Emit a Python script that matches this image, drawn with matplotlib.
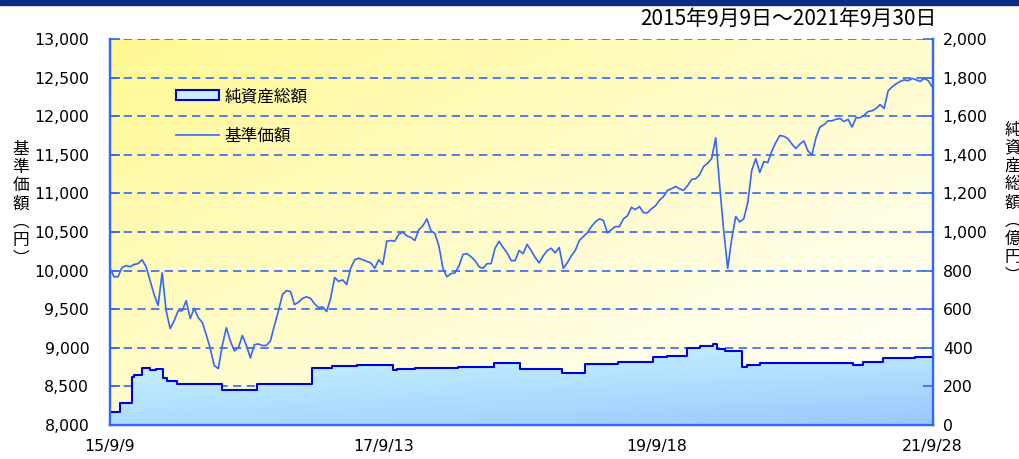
import numpy as np
import pandas as pd
import matplotlib
matplotlib.use("Agg")
import matplotlib.pyplot as plt
import matplotlib.dates as mdates
from matplotlib.patches import Rectangle, Patch
from matplotlib.lines import Line2D

# ===============================
# DATA
# ===============================
period_title = "2015年9月9日～2021年9月30日"

# 基準価額 (円) at even steps from 2015/9/9 to 2021/9/28
nav_start, nav_end = "2015-09-09", "2021-09-28"
nav_values = [
    10030, 9920, 9920, 10040, 10065, 10050, 10080, 10090, 10140, 10050,
    9870, 9690, 9550, 9970, 9480, 9250, 9350, 9480, 9480, 9610,
    9380, 9510, 9390, 9330, 9170, 8990, 8770, 8730, 9030, 9260,
    9090, 8960, 9000, 9160, 9030, 8870, 9040, 9050, 9030, 9030,
    9090, 9290, 9480, 9690, 9740, 9730, 9560, 9590, 9640, 9660,
    9640, 9570, 9520, 9530, 9470, 9640, 9910, 9860, 9880, 9820,
    10030, 10140, 10160, 10140, 10120, 10100, 10030, 10140, 10080, 10380,
    10390, 10380, 10470, 10500, 10450, 10430, 10390, 10530, 10580, 10670,
    10520, 10480, 10320, 10030, 9920, 9960, 9970, 10060, 10210, 10220,
    10180, 10130, 10050, 10030, 10090, 10090, 10290, 10380, 10300, 10230,
    10130, 10130, 10260, 10220, 10340, 10260, 10170, 10100, 10190, 10260,
    10290, 10230, 10300, 10030, 10100, 10190, 10260, 10390, 10440, 10490,
    10570, 10630, 10670, 10650, 10490, 10530, 10570, 10570, 10670, 10710,
    10820, 10790, 10830, 10750, 10750, 10800, 10840, 10910, 10960, 11040,
    11060, 11090, 11060, 11040, 11100, 11180, 11190, 11240, 11350, 11390,
    11450, 11720, 11100, 10520, 10030, 10410, 10700, 10630, 10670, 10880,
    11300, 11450, 11270, 11410, 11400, 11550, 11660, 11750, 11740, 11710,
    11640, 11580, 11640, 11680, 11550, 11500, 11720, 11860, 11890, 11940,
    11940, 11960, 11970, 11930, 11960, 11860, 11980, 11980, 12010, 12060,
    12070, 12100, 12150, 12100, 12330, 12380, 12420, 12450, 12470, 12460,
    12490, 12470, 12450, 12490, 12460, 12380,
]

# 純資産総額 (億円), step changes
asset_dates = [
    "2015-09-09", "2015-10-06", "2015-11-07", "2015-11-13", "2015-12-04",
    "2015-12-26", "2016-01-11", "2016-01-30", "2016-02-09", "2016-03-07",
    "2016-07-06", "2016-10-08", "2017-03-05", "2017-04-28", "2017-07-04",
    "2017-10-09", "2017-10-20", "2017-12-07", "2018-04-02", "2018-07-08",
    "2018-09-16", "2019-01-07", "2019-03-10", "2019-06-06", "2019-09-09",
    "2019-10-16", "2019-12-09", "2020-01-13", "2020-02-17", "2020-02-28",
    "2020-03-20", "2020-05-05", "2020-05-18", "2020-06-22", "2021-02-27",
    "2021-03-26", "2021-05-19", "2021-08-13", "2021-09-30",
]
asset_values = [
    65, 115, 250, 258, 295, 285, 290, 245, 228, 213,
    183, 213, 295, 306, 310, 285, 292, 295, 300, 321,
    290, 270, 316, 326, 352, 360, 399, 409, 420, 395,
    385, 301, 310, 321, 310, 327, 345, 350, 350,
]

xtick_dates = ["2015-09-09", "2017-09-13", "2019-09-18", "2021-09-28"]
xtick_labels = ["15/9/9", "17/9/13", "19/9/18", "21/9/28"]
left_ticks = list(range(8000, 13001, 500))
right_ticks = list(range(0, 2001, 200))

# ===============================
# STYLE
# ===============================
JP = ["Noto Sans CJK JP", "DejaVu Sans"]
plt.rcParams['font.family'] = ["DejaVu Sans", "Noto Sans CJK JP"]
BLUE = "#3366ff"
DARK = "#0000dd"

fig = plt.figure(figsize=(10.2, 4.59), dpi=100)
pos = [110 / 1020, 1 - 425 / 459, 823 / 1020, 386 / 459]

# background gradient (yellow top-left -> white bottom-right)
bg_ax = fig.add_axes(pos)
bg_ax.set_axis_off()
u = np.linspace(0, 1, 300)
v = np.linspace(0, 1, 150)
t = (((1 - u)[None, :] + v[:, None]) / 2) ** 1.2
yellow = np.array([1.0, 0.975, 0.57])
white = np.array([1.0, 1.0, 0.985])
bg = white + (yellow - white) * t[..., None]
bg_ax.imshow(bg, extent=[0, 1, 0, 1], origin='lower', aspect='auto')
bg_ax.set_xlim(0, 1)
bg_ax.set_ylim(0, 1)

ax = fig.add_axes(pos)
ax.patch.set_alpha(0)
ax2 = ax.twinx()

nav_dt = pd.date_range(nav_start, nav_end, periods=len(nav_values))
asset_dt = pd.to_datetime(asset_dates)

ax.yaxis.grid(True, linestyle=(0, (5, 3.2)), color=BLUE, lw=1.2)
ax.set_axisbelow(True)
ax.plot(nav_dt, nav_values, color=BLUE, lw=1.2, zorder=3)

# area with gradient
fill = ax2.fill_between(asset_dt, asset_values, 0, step='post',
                        facecolor='none', edgecolor='none')
x0 = mdates.date2num(pd.Timestamp("2015-09-09"))
x1 = mdates.date2num(pd.Timestamp("2021-09-30"))
gx = np.linspace(0, 1, 200)
gy = np.linspace(0, 1, 100)
top_l, top_r = np.array([0.80, 0.97, 1.0]), np.array([0.74, 0.92, 1.0])
bot_l, bot_r = np.array([0.68, 0.86, 1.0]), np.array([0.60, 0.78, 0.99])
top = top_l + (top_r - top_l) * gx[:, None]
bot = bot_l + (bot_r - bot_l) * gx[:, None]
area_grad = bot[None, :, :] + (top - bot)[None, :, :] * gy[:, None, None]
img = ax2.imshow(area_grad, extent=[x0, x1, 0, 430], origin='lower',
                 aspect='auto', zorder=1)
img.set_clip_path(fill.get_paths()[0], transform=ax2.transData)
ax2.step(asset_dt, asset_values, where='post', color=DARK, lw=1.5, zorder=2)

# axes
ax.set_xlim(pd.Timestamp("2015-09-09"), pd.Timestamp("2021-09-30"))
ax.set_ylim(8000, 13000)
ax2.set_ylim(0, 2000)
ax.set_yticks(left_ticks)
ax.set_yticklabels([f"{t:,}" for t in left_ticks])
ax2.set_yticks(right_ticks)
ax2.set_yticklabels([f"{t:,}" for t in right_ticks])
ax.set_xticks(pd.to_datetime(xtick_dates))
ax.set_xticklabels(xtick_labels)

for a in (ax, ax2):
    for side in ("left", "right", "bottom"):
        a.spines[side].set_color(BLUE)
        a.spines[side].set_linewidth(1.6)
    a.spines["top"].set_visible(False)

ax.tick_params(axis='y', direction='in', length=7, width=1.2, color=BLUE,
               pad=15, labelsize=11.3)
ax2.tick_params(axis='y', direction='in', length=7, width=1.2, color=BLUE,
                pad=7, labelsize=11.3)
ax.tick_params(axis='x', direction='in', length=6, width=1.2, color=BLUE,
               pad=10, labelsize=11.3)

# legend
handles = [Patch(facecolor="#cdefff", edgecolor=DARK, lw=1.5),
           Line2D([], [], color=BLUE, lw=1.2)]
leg = fig.legend(handles, ["純資産総額", "基準価額"], loc='upper left',
                 bbox_to_anchor=(176 / 1020, 1 - 88 / 459), frameon=False,
                 prop={'family': JP, 'size': 12}, handlelength=2.6,
                 handleheight=0.6, handletextpad=0.3, labelspacing=1.35,
                 borderpad=0, borderaxespad=0)

# axis labels (vertical)
fig.text(21 / 1020, 1 - 204 / 459, "\n".join("基準価額︵円︶"), ha='center',
         va='center', fontsize=12, linespacing=1.1, family=JP)
fig.text(1013 / 1020, 1 - 203 / 459, "\n".join("純資産総額︵億円︶"),
         ha='center', va='center', fontsize=12, linespacing=1.1, family=JP)

# title and top bar
fig.text(937 / 1020, 1 - 19 / 459, period_title, ha='right', va='center',
         fontsize=15, family=JP)
fig.patches.append(Rectangle((0, 1 - 5 / 459), 1, 5 / 459,
                             transform=fig.transFigure, color="#0d2c86"))

fig.savefig("out.png", dpi=100)
